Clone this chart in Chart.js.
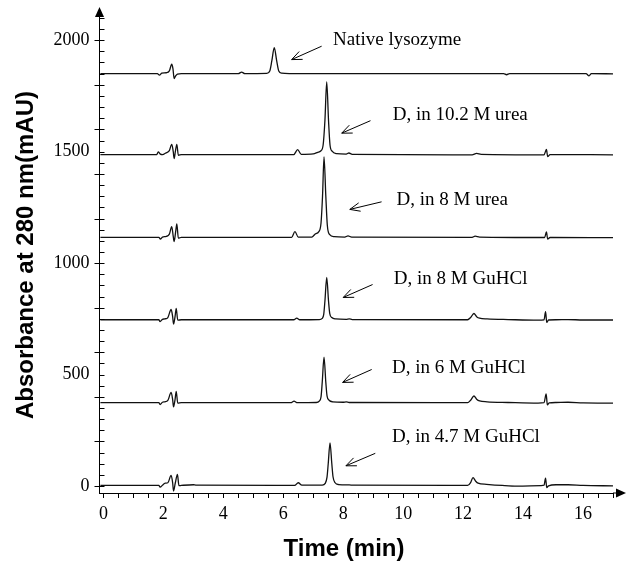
<!DOCTYPE html>
<html>
<head>
<meta charset="utf-8">
<script src="https://cdn.jsdelivr.net/npm/chart.js@4.4.0/dist/chart.umd.min.js"></script>
<style>
  html, body { margin: 0; padding: 0; background: #fff; }
</style>
</head>
<body>
<canvas id="chromChart" width="631" height="567"></canvas>
<script>
// Chromatograms: [time (min), absorbance (mAU)], each trace already offset
const nativeLysozyme = [
  [-0.1, 1850], [1.8, 1850], [1.87, 1843], [1.95, 1852], [2.1, 1854], [2.2, 1862], [2.28, 1892],
  [2.32, 1872], [2.36, 1828], [2.41, 1840], [2.47, 1848], [2.6, 1850], [4.5, 1850], [4.61, 1857],
  [4.72, 1850], [5.45, 1851], [5.55, 1862], [5.62, 1908], [5.7, 1967], [5.78, 1908], [5.85, 1862],
  [5.95, 1852], [6.2, 1850], [13.35, 1850], [13.45, 1845], [13.55, 1850], [16.1, 1850],
  [16.2, 1840], [16.28, 1850], [17.0, 1849]
];
const urea102 = [
  [-0.1, 1487], [1.78, 1487], [1.83, 1499], [1.9, 1489], [1.97, 1487], [2.08, 1494], [2.2, 1505],
  [2.28, 1533], [2.33, 1500], [2.36, 1469], [2.4, 1500], [2.45, 1533], [2.5, 1484], [2.6, 1487],
  [6.35, 1487], [6.48, 1509], [6.6, 1488], [7.0, 1490], [7.15, 1497], [7.25, 1503], [7.33, 1530],
  [7.39, 1640], [7.45, 1813], [7.51, 1640], [7.56, 1530], [7.63, 1502], [7.78, 1491], [8.1, 1489],
  [8.19, 1494], [8.3, 1488], [12.3, 1486], [12.45, 1492], [12.6, 1488], [14.7, 1486],
  [14.78, 1510], [14.82, 1478], [14.9, 1487], [17.0, 1486]
];
const urea8 = [
  [-0.1, 1116], [1.85, 1116], [1.9, 1108], [1.97, 1117], [2.1, 1120], [2.2, 1130], [2.28, 1164],
  [2.33, 1120], [2.36, 1097], [2.41, 1140], [2.45, 1176], [2.5, 1112], [2.6, 1116], [6.28, 1116],
  [6.39, 1141], [6.5, 1117], [6.95, 1117], [7.08, 1132], [7.18, 1140], [7.26, 1180], [7.31, 1300],
  [7.36, 1477], [7.42, 1300], [7.47, 1170], [7.55, 1128], [7.7, 1119], [8.05, 1117], [8.16, 1122],
  [8.28, 1117], [12.3, 1116], [12.4, 1121], [12.55, 1117], [14.72, 1115], [14.78, 1140],
  [14.82, 1108], [14.9, 1115], [17.0, 1114]
];
const guhcl8 = [
  [-0.1, 746], [1.85, 746], [1.89, 738], [1.97, 748], [2.05, 750], [2.15, 756], [2.26, 792],
  [2.31, 760], [2.34, 727], [2.39, 760], [2.43, 797], [2.48, 744], [2.6, 746], [6.35, 746],
  [6.45, 753], [6.55, 746], [7.2, 747], [7.3, 752], [7.35, 770], [7.39, 830], [7.45, 936],
  [7.51, 830], [7.55, 775], [7.62, 756], [7.75, 750], [8.1, 748], [8.2, 750], [8.3, 747],
  [12.15, 746], [12.25, 756], [12.36, 774], [12.45, 760], [12.55, 753], [12.8, 750], [13.5, 747],
  [14.5, 744], [14.7, 746], [14.75, 782], [14.79, 734], [14.85, 745], [15.1, 746], [15.5, 747],
  [16.0, 745], [17.0, 745]
];
const guhcl6 = [
  [-0.1, 374], [1.85, 374], [1.89, 366], [1.97, 376], [2.05, 378], [2.15, 384], [2.26, 420],
  [2.31, 388], [2.34, 355], [2.39, 388], [2.43, 425], [2.48, 372], [2.6, 374], [6.25, 374],
  [6.36, 381], [6.47, 374], [7.1, 375], [7.2, 381], [7.26, 400], [7.3, 465], [7.36, 578],
  [7.42, 465], [7.46, 405], [7.53, 385], [7.65, 378], [8.0, 376], [8.1, 378], [8.2, 375],
  [12.15, 374], [12.25, 385], [12.36, 404], [12.45, 390], [12.55, 382], [12.8, 378], [13.5, 375],
  [14.5, 372], [14.7, 374], [14.77, 414], [14.81, 364], [14.87, 373], [15.1, 375], [15.5, 376],
  [16.0, 373], [17.0, 372]
];
const guhcl47 = [
  [-0.1, 3], [1.85, 3], [1.89, -5], [1.98, 5], [2.06, 13], [2.15, 15], [2.26, 48], [2.31, 15],
  [2.34, -22], [2.4, 15], [2.47, 52], [2.52, 2], [2.6, 3], [3.0, 6], [3.1, 4], [6.38, 3],
  [6.5, 15], [6.62, 4], [7.3, 4], [7.4, 12], [7.46, 40], [7.5, 100], [7.56, 194], [7.62, 100],
  [7.66, 42], [7.73, 15], [7.85, 7], [8.2, 5], [8.35, 4], [12.15, 3], [12.25, 16], [12.33, 38],
  [12.42, 22], [12.5, 13], [12.78, 8], [13.3, 3], [13.8, 0], [14.6, 2], [14.7, 4], [14.75, 36],
  [14.79, -7], [14.85, 1], [15.1, 6], [15.5, 6], [16.0, 3], [17.0, 1]
];

const traceNames = ['Native lysozyme', 'D, in 10.2 M urea', 'D, in 8 M urea',
                    'D, in 8 M GuHCl', 'D, in 6 M GuHCl', 'D, in 4.7 M GuHCl'];
const traces = [nativeLysozyme, urea102, urea8, guhcl8, guhcl6, guhcl47];

const xRange = [-0.13, 17.0];
const yRange = [-31, 2104];
const xTickStep = 0.5;
const yTickStep = 50;
const yMajorStep = 200;
const yLabelStep = 500;

// label text anchor, arrow tail, arrow head (data units)
const annotations = [
  { text: traceNames[0], at: [7.66, 2000], from: [7.28, 1973], to: [6.28, 1913] },
  { text: traceNames[1], at: [9.65, 1664], from: [8.91, 1639], to: [7.95, 1583] },
  { text: traceNames[2], at: [9.78, 1285], from: [9.28, 1275], to: [8.22, 1241] },
  { text: traceNames[3], at: [9.69, 928], from: [8.98, 904], to: [8.0, 846] },
  { text: traceNames[4], at: [9.63, 530], from: [8.95, 523], to: [7.98, 465] },
  { text: traceNames[5], at: [9.63, 221], from: [9.07, 147], to: [8.09, 91] }
];

const serif = "'Liberation Serif', 'Times New Roman', serif";
const sans = "'Liberation Sans', Arial, sans-serif";

const extras = {
  id: 'extras',
  afterDraw(chart) {
    const ctx = chart.ctx;
    const xs = chart.scales.x, ys = chart.scales.y;
    const area = chart.chartArea;
    ctx.save();
    ctx.strokeStyle = '#000';
    ctx.fillStyle = '#000';
    ctx.lineWidth = 1;

    // y ticks: major every 200 cross the axis, minor ones point inward
    ctx.beginPath();
    ys.ticks.forEach(t => {
      const y = Math.round(ys.getPixelForValue(t.value)) + 0.5;
      const major = Math.abs(t.value % yMajorStep) < 1e-6;
      ctx.moveTo(area.left - (major ? 5 : 0), y);
      ctx.lineTo(area.left + 5, y);
    });
    ctx.stroke();

    // axis arrows
    ctx.beginPath();
    ctx.moveTo(area.left, area.top - 10);
    ctx.lineTo(area.left - 4.5, area.top);
    ctx.lineTo(area.left + 4.5, area.top);
    ctx.closePath();
    ctx.fill();
    ctx.beginPath();
    ctx.moveTo(area.right, area.bottom);
    ctx.lineTo(area.right + 4, area.bottom);
    ctx.stroke();
    ctx.beginPath();
    ctx.moveTo(area.right + 13, area.bottom);
    ctx.lineTo(area.right + 3, area.bottom - 4.5);
    ctx.lineTo(area.right + 3, area.bottom + 4.5);
    ctx.closePath();
    ctx.fill();

    // annotations with open arrows
    ctx.font = '19px ' + serif;
    ctx.textAlign = 'left';
    ctx.textBaseline = 'middle';
    annotations.forEach(a => {
      ctx.fillText(a.text, xs.getPixelForValue(a.at[0]), ys.getPixelForValue(a.at[1]));
      const x1 = xs.getPixelForValue(a.from[0]), y1 = ys.getPixelForValue(a.from[1]);
      const x2 = xs.getPixelForValue(a.to[0]), y2 = ys.getPixelForValue(a.to[1]);
      const ang = Math.atan2(y2 - y1, x2 - x1);
      ctx.beginPath();
      ctx.moveTo(x1, y1);
      ctx.lineTo(x2, y2);
      ctx.moveTo(x2 - 11 * Math.cos(ang - 0.4), y2 - 11 * Math.sin(ang - 0.4));
      ctx.lineTo(x2, y2);
      ctx.lineTo(x2 - 11 * Math.cos(ang + 0.4), y2 - 11 * Math.sin(ang + 0.4));
      ctx.stroke();
    });

    // axis titles
    ctx.font = 'bold 24px ' + sans;
    ctx.textAlign = 'center';
    ctx.textBaseline = 'alphabetic';
    ctx.fillText('Time (min)', 344, 556);
    ctx.translate(33, (area.top + area.bottom) / 2);
    ctx.rotate(-Math.PI / 2);
    ctx.fillText('Absorbance at 280 nm(mAU)', 0, 0);
    ctx.restore();
  }
};

new Chart(document.getElementById('chromChart'), {
  type: 'line',
  data: {
    datasets: traces.map((tr, i) => ({
      label: traceNames[i],
      data: tr.map(p => ({ x: p[0], y: p[1] })),
      borderColor: '#111',
      borderWidth: 1.3,
      pointRadius: 0,
      cubicInterpolationMode: 'monotone',
      fill: false
    }))
  },
  options: {
    responsive: false,
    animation: false,
    layout: { padding: { top: 17, right: 18, left: 0, bottom: 0 } },
    plugins: { legend: { display: false }, tooltip: { enabled: false } },
    scales: {
      x: {
        type: 'linear',
        min: xRange[0],
        max: xRange[1],
        afterFit: s => { s.height = 74; },
        border: { display: true, color: '#000', width: 1 },
        grid: { display: true, drawOnChartArea: false, drawTicks: true, tickLength: 5, color: '#000' },
        ticks: {
          stepSize: xTickStep,
          includeBounds: false,
          autoSkip: false,
          maxRotation: 0,
          padding: 5,
          color: '#000',
          font: { family: serif, size: 18 },
          callback: v => (Math.abs(v % 2) < 1e-6 ? String(v) : '')
        }
      },
      y: {
        type: 'linear',
        min: yRange[0],
        max: yRange[1],
        afterFit: s => { s.width = 99.5; },
        border: { display: true, color: '#000', width: 1 },
        grid: { display: true, drawOnChartArea: false, drawTicks: true, tickLength: 6, color: 'rgba(0,0,0,0)' },
        ticks: {
          stepSize: yTickStep,
          includeBounds: false,
          autoSkip: false,
          padding: 4,
          color: '#000',
          font: { family: serif, size: 18 },
          callback: v => (Math.abs(v % yLabelStep) < 1e-6 ? String(v) : '')
        }
      }
    }
  },
  plugins: [extras]
});
</script>
</body>
</html>
